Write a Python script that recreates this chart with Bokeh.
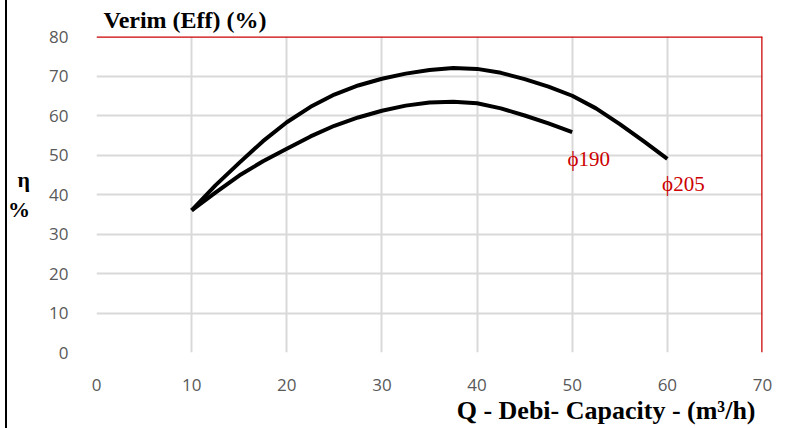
from bokeh.plotting import figure
from bokeh.models import Range1d, Span, Title, FixedTicker, ColumnDataSource
from bokeh.embed import file_html
from bokeh.resources import INLINE

# Data
q_205 = [10, 12.5, 15, 17.5, 20, 22.5, 25, 27.5, 30, 32.5, 35, 37.5, 40, 42.5, 45, 47.5, 50, 52.5, 55, 57.5, 60]
eff_205 = [36, 42.3, 48, 53.5, 58.3, 62.2, 65.3, 67.6, 69.3, 70.6, 71.5, 72, 71.8, 70.8, 69.2, 67.3, 65, 61.8, 57.8, 53.5, 49]
q_190 = [10, 12.5, 15, 17.5, 20, 22.5, 25, 27.5, 30, 32.5, 35, 37.5, 40, 42.5, 45, 47.5, 50]
eff_190 = [36, 40.5, 44.8, 48.4, 51.6, 54.7, 57.4, 59.5, 61.2, 62.5, 63.3, 63.5, 63.1, 61.8, 60, 58, 55.8]
x_ticks = [0, 10, 20, 30, 40, 50, 60, 70]
y_ticks = [0, 10, 20, 30, 40, 50, 60, 70, 80]
curve_names = ["\u03d5190", "\u03d5205"]
name_x = [49.5, 59.45]
name_y = [49.0, 42.7]

serif = "Liberation Serif"

p = figure(width=787, height=428, output_backend="svg", toolbar_location=None,
           x_range=Range1d(0, 70), y_range=Range1d(0, 80),
           min_border_left=96, min_border_right=25, min_border_top=36, min_border_bottom=76)
p.outline_line_color = None
p.background_fill_color = "white"
p.border_fill_color = None
p.styles = {"background": "linear-gradient(to right, white 0px, white 5px, black 5px, black 7px, white 7px, white 100%)"}

p.title.text = "Verim (Eff) (%)"
p.title.align = "left"
p.title.offset = 7
p.title.text_font = serif
p.title.text_font_style = "bold"
p.title.text_font_size = "24px"
p.title.text_color = "black"
p.title.standoff = 7

for ax in (p.xaxis[0], p.yaxis[0]):
    ax.axis_line_color = None
    ax.major_tick_line_color = None
    ax.minor_tick_line_color = None
    ax.major_label_text_font = "Open Sans"
    ax.major_label_text_font_size = "17px"
    ax.major_label_text_color = "#595959"
p.xaxis[0].ticker = FixedTicker(ticks=x_ticks)
p.yaxis[0].ticker = FixedTicker(ticks=y_ticks)
p.xaxis[0].major_label_standoff = 20
p.yaxis[0].major_label_standoff = 22

p.yaxis[0].axis_label = "\u03b7\n%"
p.yaxis[0].axis_label_orientation = "horizontal"
p.yaxis[0].axis_label_text_font = serif
p.yaxis[0].axis_label_text_font_style = "bold"
p.yaxis[0].axis_label_text_font_size = "22px"
p.yaxis[0].axis_label_text_color = "black"
p.yaxis[0].axis_label_standoff = 16

p.add_layout(Title(text="Q - Debi- Capacity - (m\u00b3/h)", align="right", offset=7, standoff=0,
                   text_font=serif, text_font_style="bold", text_font_size="26px",
                   text_color="black"), "below")

p.xgrid.ticker = FixedTicker(ticks=x_ticks)
p.ygrid.ticker = FixedTicker(ticks=y_ticks)
p.grid.grid_line_color = "#d9d9d9"
p.grid.grid_line_width = 2

p.add_layout(Span(location=80, dimension="width", line_color="#cc0000", line_width=2.5))
p.add_layout(Span(location=70, dimension="height", line_color="#cc0000", line_width=2.5))

p.line(q_205, eff_205, line_color="black", line_width=4, line_join="round")
p.line(q_190, eff_190, line_color="black", line_width=4, line_join="round")

src = ColumnDataSource(dict(x=name_x, y=name_y, t=curve_names))
p.text("x", "y", text="t", source=src, text_color="#cc0000",
       text_font_size="21px", text_baseline="middle", text_align="left",
       text_font={"value": serif})

open("out.html", "w").write(file_html(p, INLINE))
